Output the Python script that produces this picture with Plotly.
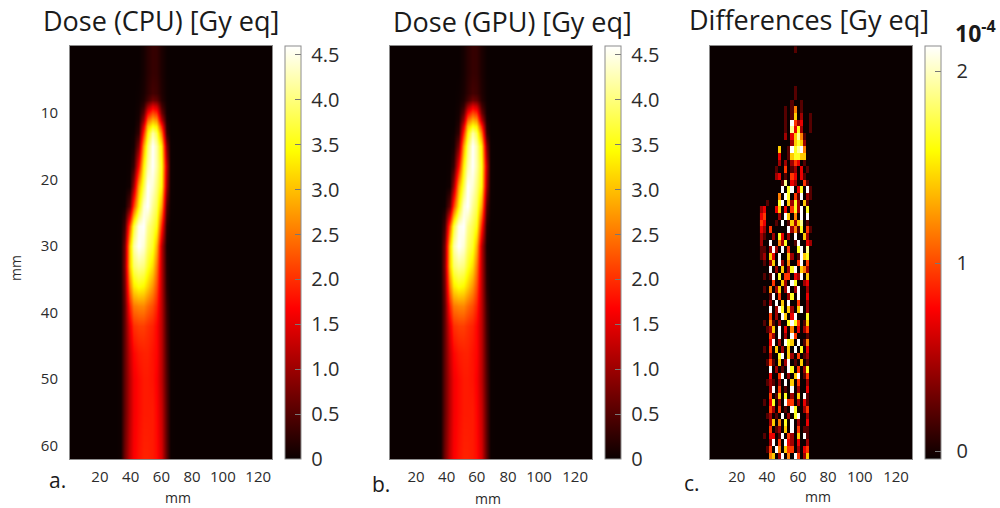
import plotly.graph_objects as go

# ---------- data ----------
DOSE_X_MM = [27, 30, 33, 36, 39, 42, 45, 48, 51, 54, 57, 60, 63, 66, 69, 72]
DOSE_Y_MM = [0, 4, 7, 8, 9, 10, 11, 12, 13, 15, 18, 21, 24, 27, 30, 33, 36, 39, 42, 46, 50, 55, 62]
DOSE_ROWS = [
    [0, 0, 0, 0, 0, 0, 0, .08, .2, .3, .28, .12, .02, 0, 0, 0],
    [0, 0, 0, 0, 0, 0, 0, .08, .2, .3, .28, .12, .02, 0, 0, 0],
    [0, 0, 0, 0, 0, 0, .02, .1, .25, .4, .35, .15, .03, 0, 0, 0],
    [0, 0, 0, 0, 0, 0, .03, .15, .4, .7, .6, .2, .03, 0, 0, 0],
    [0, 0, 0, 0, 0, 0, .05, .3, 1.0, 1.5, 1.3, .4, .05, 0, 0, 0],
    [0, 0, 0, 0, 0, 0, .07, .6, 1.7, 2.2, 2.0, .7, .06, 0, 0, 0],
    [0, 0, 0, 0, 0, 0, .12, 1.0, 2.4, 2.9, 2.7, 1.2, .12, 0, 0, 0],
    [0, 0, 0, 0, 0, 0, .2, 1.5, 3.0, 3.5, 3.3, 1.9, .2, 0, 0, 0],
    [0, 0, 0, 0, 0, .03, .3, 2.0, 3.4, 4.2, 3.8, 2.5, .3, 0, 0, 0],
    [0, 0, 0, 0, 0, .07, .8, 2.8, 3.9, 4.6, 4.2, 3.3, .8, .02, 0, 0],
    [0, 0, 0, 0, .02, .3, 1.7, 3.4, 4.2, 4.6, 4.2, 3.5, 1.2, .03, 0, 0],
    [0, 0, 0, 0, .06, 1.0, 2.8, 3.8, 4.6, 4.4, 4.0, 3.4, 1.0, .03, 0, 0],
    [0, 0, 0, .03, .6, 2.1, 3.4, 4.4, 4.6, 4.1, 3.8, 2.8, .5, .02, 0, 0],
    [0, 0, .02, .35, 2.2, 3.7, 4.5, 4.6, 4.1, 3.8, 3.5, 1.9, .2, 0, 0, 0],
    [0, 0, .03, .7, 3.0, 4.2, 4.6, 4.4, 3.9, 3.6, 2.9, 1.2, .1, 0, 0, 0],
    [0, 0, .03, .8, 3.0, 3.9, 4.1, 4.0, 3.6, 3.2, 2.5, 1.2, .15, 0, 0, 0],
    [0, 0, .03, .7, 2.5, 3.3, 3.5, 3.4, 3.1, 2.7, 2.2, 1.2, .2, 0, 0, 0],
    [0, 0, .03, .6, 1.9, 2.5, 2.6, 2.6, 2.4, 2.2, 1.9, 1.2, .3, .01, 0, 0],
    [0, 0, .03, .6, 1.5, 2.0, 2.1, 2.1, 2.0, 1.9, 1.7, 1.2, .35, .01, 0, 0],
    [0, 0, .03, .6, 1.3, 1.7, 1.85, 1.9, 1.9, 1.8, 1.7, 1.2, .4, .01, 0, 0],
    [0, 0, .03, .6, 1.2, 1.6, 1.75, 1.85, 1.85, 1.8, 1.65, 1.2, .45, .02, 0, 0],
    [0, 0, .03, .6, 1.2, 1.6, 1.75, 1.85, 1.85, 1.85, 1.7, 1.3, .5, .02, 0, 0],
    [0, 0, .03, .7, 1.3, 1.65, 1.8, 1.9, 1.9, 1.85, 1.75, 1.4, .55, .02, 0, 0],
]

DIFF_X_MM = [34, 36, 38, 40, 42, 44, 46, 48, 50, 52, 54, 56, 58, 60, 62, 64, 66, 68]
DIFF_DIGIT_UNIT = 0.235  # one digit step, in units of 1e-4 Gy eq
DIFF_ROWS = [
    "000000000001000000", "000000000000000000", "000000000000000000", "000000000000000000",
    "000000000000000000", "000000000000000000", "000000000001000000", "000000000001000000",
    "000000000010010000", "000000001015010000", "000000001016020010", "000000001094230010",
    "000000001083720010", "000000002036851000", "000000000026762000", "000000600197895000",
    "000000300167766000", "000000202024301000", "000001004012030100", "000002301043031000",
    "000000018032004100", "000000090790370910", "000000509704190210", "001000790627206100",
    "230003603047290700", "340000209605090900", "430001090162680100", "320400000925170410",
    "210020730209006200", "200900527001900320", "110292090400790800", "120630900620196700",
    "010260920500490400", "000902060279065200", "010190704403290600", "000040062097002300",
    "010502602902900200", "000190400270900300", "010209060900400200", "000902970620690200",
    "000402096039000700", "010510200797401600", "001260903050302400", "000420902094000100",
    "000390209760901500", "010406020609070300", "000200790620401200", "001410602901060100",
    "000902010970402700", "000300490206901400", "001210209060400200", "000290401090200300",
    "000401607020609100", "010370209440203100", "000420401097002400", "001201090207900200",
    "000260507090200300", "000401206090401100", "010330190420609100", "000290409320300200",
    "001409506440203400", "000560290509402600",
]

DOSE_TICKS = [0, 0.5, 1, 1.5, 2, 2.5, 3, 3.5, 4, 4.5]
DOSE_LABELS = ["0", "0.5", "1.0", "1.5", "2.0", "2.5", "3.0", "3.5", "4.0", "4.5"]
DIFF_TICKS = [0.04, 1.0, 1.98]
DIFF_LABELS = ["0", "1", "2"]
Y_TICKS = [10, 20, 30, 40, 50, 60]
X_LABELS = ["20", "40", "60", "80", "100", "120"]
X_TICKS_A = [20, 40, 60, 80, 100, 123]
X_TICKS_B = [17.4, 37.4, 57, 77.3, 97.5, 121]
X_TICKS_C = [17.9, 37.6, 57.8, 77.3, 98, 121.6]
TITLES = ["Dose (CPU) [Gy eq]", "Dose (GPU) [Gy eq]", "Differences [Gy eq]"]

# ---------- style ----------
W, H = 1000, 508
FONT = "Open Sans"
TXT = "#2b2b2b"
HOT = [[0, "#0a0000"], [0.365, "#ff0000"], [0.746, "#ffff00"], [1, "#ffffff"]]
LEFTS = [70, 390, 710]
PW = 202
TOP, BOTTOM = 46, 459


def colorbar(left, tickvals, ticktext, pad):
    return dict(
        x=(left + PW + 13) / W, xanchor="left", xref="paper",
        y=(H - BOTTOM) / H, yanchor="bottom", yref="paper",
        len=(BOTTOM - TOP) / H, lenmode="fraction",
        thickness=16, thicknessmode="pixels",
        outlinecolor="#8c8c8c", outlinewidth=1, xpad=0, ypad=0,
        tickmode="array", tickvals=tickvals, ticktext=[pad + t for t in ticktext],
        ticks="inside", ticklen=6, tickcolor="#777777", tickwidth=1,
        ticklabelposition="outside",
        tickfont=dict(family=FONT, size=20, color=TXT),
    )


fig = go.Figure()
for i, left in enumerate(LEFTS):
    n = "" if i == 0 else str(i + 1)
    common = dict(xaxis="x" + n, yaxis="y" + n, colorscale=HOT, hoverinfo="skip")
    if i < 2:
        fig.add_trace(go.Heatmap(
            x=DOSE_X_MM, y=DOSE_Y_MM, z=DOSE_ROWS, zmin=0, zmax=4.6, zsmooth="best",
            colorbar=colorbar(left, DOSE_TICKS, DOSE_LABELS, "&nbsp;"), **common))
    else:
        z = [[int(c) * DIFF_DIGIT_UNIT for c in row] for row in DIFF_ROWS]
        fig.add_trace(go.Heatmap(
            x=DIFF_X_MM, y=[r + 0.5 for r in range(len(DIFF_ROWS))], z=z,
            zmin=0, zmax=2.11, zsmooth=False,
            colorbar=colorbar(left, DIFF_TICKS, DIFF_LABELS, "&nbsp;&nbsp;"), **common))
    xticks = [X_TICKS_A, X_TICKS_B, X_TICKS_C][i]
    fig.update_layout({
        "xaxis" + n: dict(
            domain=[left / W, (left + PW) / W], range=[0.5, 132], anchor="y" + n,
            tickmode="array", tickvals=xticks, ticktext=X_LABELS, ticks="",
            ticklabelstandoff=4, showgrid=False, zeroline=False,
            showline=True, mirror=True, linecolor="#8c8c8c", linewidth=1,
            tickfont=dict(family=FONT, size=15, color=TXT),
        ),
        "yaxis" + n: dict(
            domain=[(H - BOTTOM) / H, (H - TOP) / H], range=[62, -0.06], anchor="x" + n,
            tickmode="array", tickvals=Y_TICKS if i == 0 else [], ticks="",
            ticklabelstandoff=8, showgrid=False, zeroline=False,
            showline=True, mirror=True, linecolor="#8c8c8c", linewidth=1,
            tickfont=dict(family=FONT, size=15, color=TXT),
        ),
    })

def note(text, px, py, size, **kw):
    fig.add_annotation(text=text, x=px / W, y=1 - py / H, xref="paper", yref="paper",
                       xanchor="center", yanchor="middle", showarrow=False,
                       font=dict(family=FONT, size=size, color=kw.pop("color", "#1a1a1a")), **kw)

note(TITLES[0], 161, 20, 27)
note(TITLES[1], 512, 21, 27)
note(TITLES[2], 809, 19, 27)
note("a.", 57, 480, 21)
note("b.", 381, 484, 21)
note("c.", 692, 483, 21)
note("mm", 178, 497, 14, color=TXT)
note("mm", 488, 498, 14, color=TXT)
note("mm", 818, 496, 14, color=TXT)
note("mm", 15, 268, 14, color=TXT, textangle=-90)
note("<b>10<sup>-4</sup></b>", 975, 32, 23)

fig.update_layout(
    width=W, height=H, margin=dict(l=0, r=0, t=0, b=0),
    paper_bgcolor="white", plot_bgcolor="#0a0000", showlegend=False,
)
fig.write_html("out.html", post_script="document.body.style.margin='0';",
               config={"displayModeBar": False})
